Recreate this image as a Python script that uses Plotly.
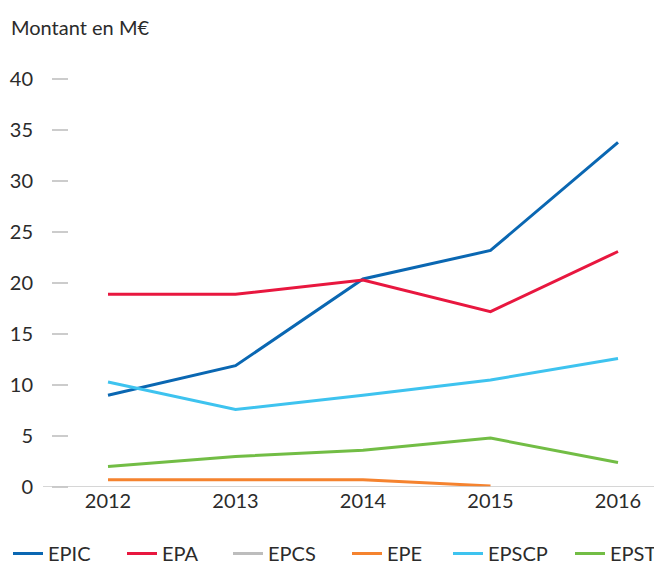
import plotly.graph_objects as go

years = [2012, 2013, 2014, 2015, 2016]
series_names = ["EPIC", "EPA", "EPCS", "EPE", "EPSCP", "EPST"]
epic = [9.0, 11.9, 20.4, 23.2, 33.8]
epa = [18.9, 18.9, 20.3, 17.2, 23.1]
epcs = [None, None, None, None, None]
epe = [0.7, 0.7, 0.7, 0.1, None]
epscp = [10.3, 7.6, 9.0, 10.5, 12.6]
epst = [2.0, 3.0, 3.6, 4.8, 2.4]
colors = ["#0a67b2", "#e8173f", "#bdbdbd", "#f5832f", "#3ec3ef", "#72bd45"]
yticks = [0, 5, 10, 15, 20, 25, 30, 35, 40]

values = [epic, epa, epcs, epe, epscp, epst]
FONT = "Lato"
TXT = "#2b2b2b"

W, H = 662, 565
ml, mr, mt, mb = 61, 8, 61, 86
pw = W - ml - mr
ph = H - mt - mb

legend_x = [0, 114, 220, 339, 440, 562]
legend_keys = ["legend", "legend2", "legend3", "legend4", "legend5", "legend6"]

fig = go.Figure()
for name, vals, col, lk in zip(series_names, values, colors, legend_keys):
    fig.add_trace(go.Scatter(
        x=years, y=vals, name=name, mode="lines",
        line=dict(color=col, width=3),
        cliponaxis=False, legend=lk,
    ))

legend_layout = {}
for lk, lx in zip(legend_keys, legend_x):
    legend_layout[lk] = dict(orientation="h", xref="container", yref="container",
                             x=lx / W, xanchor="left", y=1 - 526 / H, yanchor="top",
                             font=dict(size=20, color=TXT), itemwidth=30,
                             bgcolor="rgba(0,0,0,0)")

fig.update_layout(
    width=W, height=H,
    margin=dict(l=ml, r=mr, t=mt, b=mb, autoexpand=False),
    paper_bgcolor="white", plot_bgcolor="white",
    font=dict(family=FONT, size=20, color=TXT),
    showlegend=True,
    annotations=[dict(text="Montant en M€", xref="paper", yref="paper",
                      x=-(ml - 1) / pw, y=1 + (mt - 19) / ph,
                      xanchor="left", yanchor="middle", showarrow=False,
                      font=dict(size=20, color=TXT))],
    shapes=[dict(type="line", xref="paper", yref="y",
                 x0=-(ml - 35) / pw, x1=1.02, y0=0, y1=0,
                 line=dict(color="#c8c8c8", width=1.5))],
    **legend_layout,
)
fig.update_xaxes(range=[2011.694, 2016.345], tickvals=years,
                 ticktext=[str(y) for y in years], automargin=False,
                 showgrid=False, zeroline=False, showline=False, ticks="",
                 tickfont=dict(size=20), ticklabelstandoff=0)
fig.update_yaxes(range=[0, 41], tickvals=yticks, showgrid=False, zeroline=False,
                 showline=False, ticks="outside", ticklen=16, tickwidth=1.5,
                 automargin=False,
                 tickcolor="#cccccc", ticklabelstandoff=15, tickfont=dict(size=20))

fig.write_html("out.html")
